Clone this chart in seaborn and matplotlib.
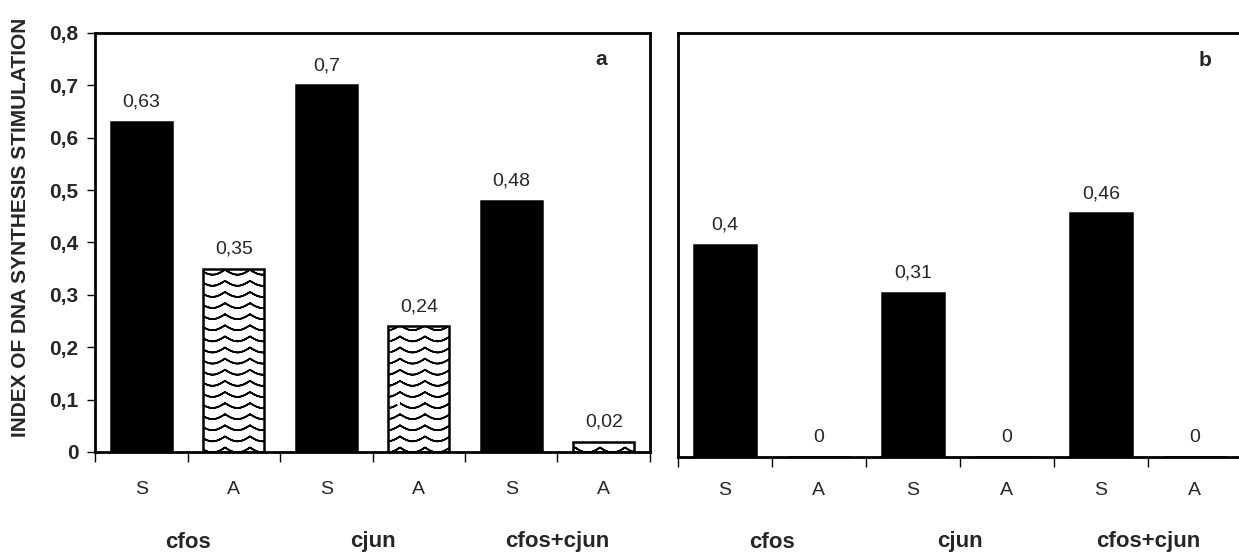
import warnings
import numpy as np
import pandas as pd
import matplotlib
matplotlib.use("Agg")
import matplotlib.pyplot as plt
import matplotlib.hatch as mhatch
import matplotlib.transforms as mtransforms
from matplotlib.path import Path
import seaborn as sns

warnings.filterwarnings("ignore")

### DATA ###
groups = ["cfos", "cjun", "cfos+cjun"]
treatments = ["S", "A"]
values_a = [0.63, 0.35, 0.70, 0.24, 0.48, 0.02]
values_b = [0.40, 0.00, 0.31, 0.00, 0.46, 0.00]
labels_a = ["0,63", "0,35", "0,7", "0,24", "0,48", "0,02"]
labels_b = ["0,4", "0", "0,31", "0", "0,46", "0"]
yticks = [0, 0.1, 0.2, 0.3, 0.4, 0.5, 0.6, 0.7, 0.8]
ytick_labels = ["0", "0,1", "0,2", "0,3", "0,4", "0,5", "0,6", "0,7", "0,8"]


### WAVY HATCH ###
class WaveHatch(mhatch.HatchPatternBase):
    """Horizontal wavy lines, used with the '~' hatch character.
    Each line goes forward and back on itself so Agg's hatch fill adds nothing."""
    def __init__(self, hatch, density):
        self.num_rows = int(round(hatch.count('~') * density * 0.75))
        self.n_pts = 61
        self.num_lines = self.num_rows
        self.num_vertices = self.num_rows * self.n_pts * 2

    def set_vertices_and_codes(self, vertices, codes):
        x = np.linspace(0, 1, self.n_pts)
        amp = 0.22 / self.num_rows
        n = self.n_pts
        k = 0
        for i in range(self.num_rows):
            y0 = (i + 0.5) / self.num_rows
            y = y0 + amp * (1 - 2 * np.abs(np.sin(4 * np.pi * x)))
            vertices[k:k + n, 0] = x
            vertices[k:k + n, 1] = y
            vertices[k + n:k + 2 * n, 0] = x[::-1]
            vertices[k + n:k + 2 * n, 1] = y[::-1]
            codes[k] = Path.MOVETO
            codes[k + 1:k + 2 * n] = Path.LINETO
            k += 2 * n


mhatch._hatch_types.append(WaveHatch)

### STYLE ###
sns.set_style("white")
plt.rcParams['font.family'] = ['Liberation Sans', 'DejaVu Sans']
plt.rcParams['hatch.linewidth'] = 1.2


def draw_panel(ax, values, labels, letter, letter_x, tick_pad):
    df = pd.DataFrame({
        "key": [f"{g} {t}" for g in groups for t in treatments],
        "value": values,
        "treat": [t for g in groups for t in treatments],
    })
    sns.barplot(data=df, x="key", y="value", hue="treat",
                palette={"S": "black", "A": "white"}, dodge=False,
                width=0.66, legend=False, ax=ax, edgecolor="black",
                linewidth=1.8)
    bars = sorted(ax.patches, key=lambda p: p.get_x())
    for bar, treat in zip(bars, df["treat"]):
        if treat == "A":
            bar.set_hatch("~~")
    # value labels above bars
    for i, (v, lab) in enumerate(zip(values, labels)):
        ax.annotate(lab, (i, v), xytext=(0, 8), textcoords="offset points",
                    ha="center", va="bottom", fontsize=14)
    ax.set_xlim(-0.5, 5.5)
    ax.set_ylim(0, 0.8)
    # x: ticks at boundaries, S/A labels at centers
    ax.set_xticks(np.arange(-0.5, 6.0, 1.0))
    ax.set_xticklabels([])
    ax.set_xticks(np.arange(6), minor=True)
    ax.set_xticklabels([t for g in groups for t in treatments], minor=True,
                       fontsize=14)
    ax.tick_params(axis="x", which="major", direction="out", length=7,
                   width=1, bottom=True, color="black")
    ax.tick_params(axis="x", which="minor", length=0, pad=tick_pad)
    trans = mtransforms.blended_transform_factory(ax.transData, fig.transFigure)
    for gi, g in enumerate(groups):
        ax.text(gi * 2 + 0.5, 1 - 542 / 558, g, transform=trans,
                ha="center", va="center", fontsize=16, fontweight="bold")
    ax.text(letter_x, 0.936, letter, transform=ax.transAxes, ha="right",
            va="center", fontsize=15, fontweight="bold")
    ax.set_xlabel("")
    for sp in ax.spines.values():
        sp.set_visible(True)
        sp.set_color("black")
        sp.set_linewidth(2)


fig = plt.figure(figsize=(12.39, 5.58), dpi=100)
ax1 = fig.add_axes([0.0767, 0.190, 0.4479, 0.7510])
ax2 = fig.add_axes([0.5472, 0.181, 0.4550, 0.7600])

draw_panel(ax1, values_a, labels_a, "a", 0.922, 21)
draw_panel(ax2, values_b, labels_b, "b", 0.947, 18)

ax1.set_yticks(yticks)
ax1.set_yticklabels(ytick_labels, fontsize=15, fontweight="bold")
ax1.tick_params(axis="y", direction="out", length=6, width=1, left=True,
                color="black", pad=6)
ax1.set_ylabel("INDEX OF DNA SYNTHESIS STIMULATION", fontsize=15,
               fontweight="bold")
ax1.yaxis.set_label_coords(-0.117, 0.535)

ax2.set_yticks([])
ax2.set_ylabel("")

fig.savefig("out.png", dpi=100)
